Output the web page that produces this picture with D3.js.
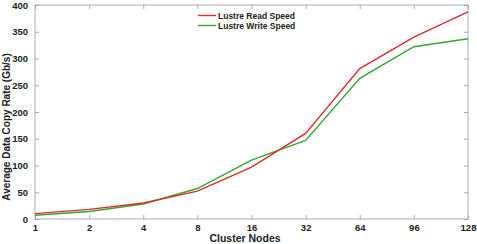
<!DOCTYPE html>
<html>
<head>
<meta charset="utf-8">
<script src="https://cdn.jsdelivr.net/npm/d3@7"></script>
<style>
  body { margin: 0; background: #fff; }
  svg text { font-family: "Liberation Sans", Arial, sans-serif; }
</style>
</head>
<body>
<div id="chart"></div>
<script>
const nodes = ['1', '2', '4', '8', '16', '32', '64', '96', '128']
const readSpeed = [10, 18, 30, 52, 97, 160, 281, 340, 387]
const writeSpeed = [7, 14, 28, 57, 110, 147, 263, 322, 337]
const yTicks = [0, 50, 100, 150, 200, 250, 300, 350, 400]

const width = 477
const height = 244
const margin = { top: 5, right: 9, bottom: 25, left: 35 }

const svg = d3.select('#chart')
  .append('svg')
  .attr('width', width)
  .attr('height', height)

const x = d3.scalePoint()
  .domain(nodes)
  .range([margin.left, width - margin.right])

const y = d3.scaleLinear()
  .domain([0, 400])
  .range([height - margin.bottom, margin.top])

// frame
svg.append('rect')
  .attr('x', margin.left)
  .attr('y', margin.top)
  .attr('width', width - margin.left - margin.right)
  .attr('height', height - margin.top - margin.bottom)
  .attr('fill', 'none')
  .attr('stroke', '#999')
  .attr('stroke-width', 0.8)

const xAxis = svg.append('g')
  .attr('transform', `translate(0, ${height - margin.bottom})`)
  .call(d3.axisBottom(x).tickSizeInner(-4).tickSizeOuter(0).tickPadding(5))
const xTop = svg.append('g')
  .attr('transform', `translate(0, ${margin.top})`)
  .call(d3.axisTop(x).tickSizeInner(-4).tickSizeOuter(0).tickFormat(''))
const yAxis = svg.append('g')
  .attr('transform', `translate(${margin.left}, 0)`)
  .call(d3.axisLeft(y).tickValues(yTicks).tickSizeInner(-4).tickSizeOuter(0).tickPadding(7))
const yRight = svg.append('g')
  .attr('transform', `translate(${width - margin.right}, 0)`)
  .call(d3.axisRight(y).tickValues(yTicks).tickSizeInner(-4).tickSizeOuter(0).tickFormat(''))

for (const g of [xAxis, xTop, yAxis, yRight]) {
  g.select('.domain').remove()
  g.selectAll('line').attr('stroke', '#999').attr('stroke-width', 0.8)
  g.selectAll('text')
    .attr('fill', '#222')
    .style('font-size', '9.5px')
    .style('font-weight', 'bold')
}

const line = d3.line()
  .x((d, i) => x(nodes[i]))
  .y(d => y(d))

svg.append('path')
  .datum(writeSpeed)
  .attr('fill', 'none')
  .attr('stroke', '#33a532')
  .attr('stroke-width', 1.4)
  .attr('d', line)

svg.append('path')
  .datum(readSpeed)
  .attr('fill', 'none')
  .attr('stroke', '#e2292d')
  .attr('stroke-width', 1.4)
  .attr('d', line)

// legend
const legend = [
  { label: 'Lustre Read Speed', color: '#e2292d' },
  { label: 'Lustre Write Speed', color: '#33a532' }
]
legend.forEach((l, i) => {
  const ly = 15.5 + i * 10
  svg.append('line')
    .attr('x1', 198).attr('x2', 216)
    .attr('y1', ly).attr('y2', ly)
    .attr('stroke', l.color)
    .attr('stroke-width', 1.4)
  svg.append('text')
    .attr('x', 218)
    .attr('y', ly + 3)
    .style('font-size', '8.5px')
    .style('font-weight', 'bold')
    .attr('fill', '#222')
    .text(l.label)
})

svg.append('text')
  .attr('x', 245)
  .attr('y', 242)
  .attr('text-anchor', 'middle')
  .style('font-size', '10.5px')
  .style('font-weight', 'bold')
  .attr('fill', '#222')
  .text('Cluster Nodes')

svg.append('text')
  .attr('transform', 'translate(10, 127) rotate(-90)')
  .attr('text-anchor', 'middle')
  .style('font-size', '10px')
  .style('font-weight', 'bold')
  .attr('fill', '#222')
  .text('Average Data Copy Rate (Gb/s)')
</script>
</body>
</html>
